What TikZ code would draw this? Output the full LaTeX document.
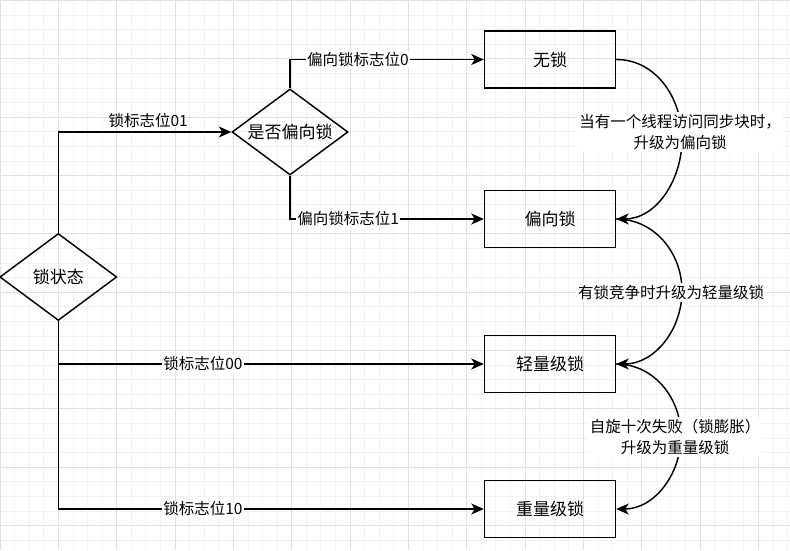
\documentclass[tikz,border=0pt]{standalone}
\usepackage{fontspec}
\setmainfont{Noto Sans CJK SC}
\usetikzlibrary{shapes.geometric,arrows.meta}
\definecolor{gridminor}{RGB}{243,243,243}
\definecolor{gridmajor}{RGB}{224,224,224}

\begin{document}
\begin{tikzpicture}[x=1pt, y=1pt, line width=1.45pt,
  lockbox/.style={draw, rectangle, minimum width=131, minimum height=57,
    font=\fontsize{17}{20}\selectfont},
  choice/.style={draw, diamond, aspect=1.35, inner sep=0pt,
    minimum width=117, minimum height=87, font=\fontsize{17}{20}\selectfont},
  flag/.style={fill=white, inner sep=1pt, font=\fontsize{15.5}{18}\selectfont},
  note/.style={fill=white, inner sep=2pt, align=center,
    font=\fontsize{15.5}{21}\selectfont},
  arrowed/.style={-{Stealth[length=12.5pt, width=11pt, inset=3.5pt]}}
]
\useasboundingbox (0,0) rectangle (790,550);
% background grid
\foreach \i in {0,...,54}
  \draw[gridminor, line width=0.8pt] (\i*14.583,0) -- (\i*14.583,550);
\foreach \j in {0,...,37}
  \draw[gridminor, line width=0.8pt] (0,549.5-\j*14.583) -- (790,549.5-\j*14.583);
\foreach \i in {0,...,13}
  \draw[gridmajor, line width=0.8pt] (\i*58.33,0) -- (\i*58.33,550);
\foreach \j in {0,...,9}
  \draw[gridmajor, line width=0.8pt] (0,549.5-\j*58.33) -- (790,549.5-\j*58.33);

% decisions
\node[choice] (state) at (58.3,273) {锁状态};
\node[choice, minimum width=116, minimum height=86] (biased) at (290,418) {是否偏向锁};
% lock levels
\node[lockbox] (nolock) at (550,490.5) {无锁};
\node[lockbox] (biaslock) at (550,331) {偏向锁};
\node[lockbox] (lightlock) at (550,186) {轻量级锁};
\node[lockbox] (heavylock) at (550,41) {重量级锁};

% flag branches
\draw[arrowed] (state.north) |- node[flag, fill=none, pos=0.76, above=3pt] (f01) {锁标志位01} (biased.west);
\draw[arrowed] (biased.north) |- node[flag, pos=0.675] (f0) {偏向锁标志位0} (nolock.west);
\draw[arrowed] (biased.south) |- node[flag, pos=0.65] (f1) {偏向锁标志位1} (biaslock.west);
\draw[arrowed] (state.south) |- node[flag, pos=0.67] (f00) {锁标志位00} (lightlock.west);
\draw[arrowed] (state.south) |- node[flag, pos=0.67] (f10) {锁标志位10} (heavylock.west);

% upgrades
\coordinate (bendA) at (682,411);
\coordinate (bendB) at (682,259);
\coordinate (bendC) at (681,114);
\draw[arrowed] (nolock.east) to[out=0,in=90] (bendA) to[out=-90,in=0] (biaslock.east);
\draw[arrowed] (biaslock.east) to[out=0,in=90] (bendB) to[out=-90,in=0] (lightlock.east);
\draw[arrowed] (lightlock.east) to[out=0,in=90] (bendC) to[out=-90,in=0] (heavylock.east);
\node[note] (upA) at (680,418) {当有一个线程访问同步块时，\\升级为偏向锁};
\node[note] (upB) at (671,257.5) {有锁竞争时升级为轻量级锁};
\node[note] (upC) at (675,113) {自旋十次失败（锁膨胀）\\升级为重量级锁};
\end{tikzpicture}
\end{document}
